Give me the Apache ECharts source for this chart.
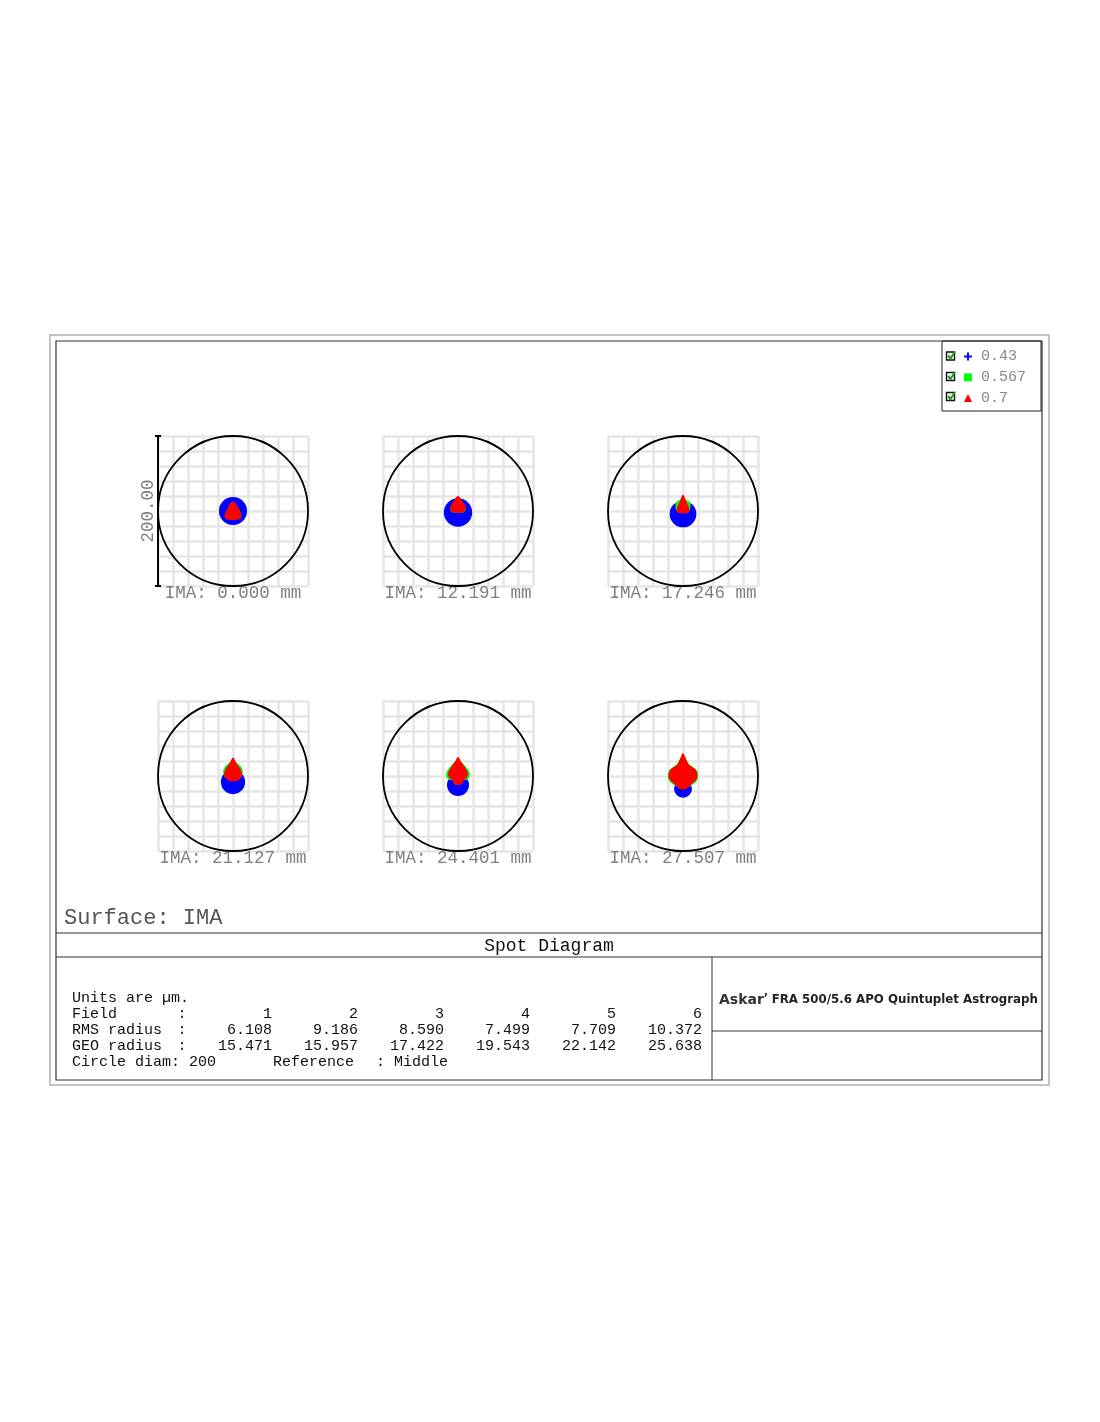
<!DOCTYPE html>
<html>
<head>
<meta charset="utf-8">
<script src="https://cdn.jsdelivr.net/npm/echarts@6/dist/echarts.min.js"></script>
<style>
html, body { margin: 0; background: #fff; }
#main { width: 1100px; height: 1422px; }
</style>
</head>
<body>
<div id="main"></div>
<script>
// field positions on the image surface (mm)
var fieldMm = ['0.000', '12.191', '17.246', '21.127', '24.401', '27.507'];
var fieldNo = ['1', '2', '3', '4', '5', '6'];
var wavelengths = ['0.43', '0.567', '0.7'];
var rmsRadius = ['6.108', '9.186', '8.590', '7.499', '7.709', '10.372'];
var geoRadius = ['15.471', '15.957', '17.422', '19.543', '22.142', '25.638'];
var circleDiam = 200;
var scaleLabel = '200.00';

// blue spot as [cx, cy, r] in µm
var blueSpots = [
  [0, 0, 18.7],
  [0, -2, 18.9],
  [0, -4, 17.8],
  [0, -8, 16.2],
  [0, -12, 14.7],
  [0, -17, 12]
];
// green / red spot outlines, right half from top to bottom, µm
var greenHalf = [
  [[0, 12], [3, 11], [6, 5.5], [9.5, -1.5], [11, -6], [10, -10], [6, -11], [0, -11.5]],
  [[0, 19], [4, 14.5], [7.5, 9.5], [10, 4.5], [10, 1], [8, -1.5], [0, -2.5]],
  [[0, 18], [4, 15], [8, 13], [10, 10], [10, 5], [9, 1], [6, -2], [0, -3]],
  [[0, 23], [3, 19], [7, 16], [10.5, 13], [13, 8], [13, 3], [11.5, -1], [8, -4], [0, -6]],
  [[0, 23], [3, 20], [7, 16], [11, 12], [14.5, 7], [16, 2], [15, -2.5], [12, -5], [0, -7]],
  [[0, 29], [4, 22], [9, 15], [15, 11], [19, 7], [20.3, 2], [20, -3], [17.5, -8], [12, -12], [6, -15], [0, -16]]
];
var redHalf = [
  [[0, 12.5], [3, 11.5], [6, 6], [9.5, -1], [11.5, -6], [10.5, -10], [6, -11.5], [0, -12]],
  [[0, 20], [2, 19], [4, 16], [6.5, 12], [9, 8], [10.3, 5], [10, 1.5], [8, -1], [4, -2.3], [0, -2.5]],
  [[0, 22], [1.5, 20.5], [3, 16], [5, 11], [7.5, 6], [8.5, 2.5], [8, -1], [5, -2.8], [0, -3.2]],
  [[0, 25], [1.5, 23.5], [3.5, 19], [6, 15], [9, 11], [11.5, 6], [12, 2], [11, -1.5], [8, -4.5], [4, -6.5], [0, -7]],
  [[0, 25.7], [1.5, 24], [3.5, 20], [5.8, 17], [9, 12], [12, 7.5], [13.5, 3.5], [13, 0], [10.5, -3.5], [7, -5.5], [6.5, -9], [4, -11.5], [0, -12]],
  [[0, 31], [1.5, 29], [3, 25], [4.4, 22], [7.3, 15.3], [12, 12], [17, 8.7], [19, 4], [19.3, -2.4], [17, -6], [11, -11.3], [7, -15], [4.4, -17.5], [0, -18]]
];

var colors = ['#0000ff', '#00ff00', '#ff0000'];
var mono = '"Liberation Mono", "DejaVu Sans Mono", monospace';
var gridLeft = [158, 383, 608];
var gridTop = [436, 701];

// spot outline is symmetric about the meridional plane
function mirror(half) {
  var back = half.slice(1, -1).reverse().map(function (p) { return [-p[0], p[1]]; });
  return half.concat(back);
}

var grids = [], xAxes = [], yAxes = [], series = [];
for (var i = 0; i < 6; i++) {
  grids.push({
    left: gridLeft[i % 3], top: gridTop[Math.floor(i / 3)],
    width: 150, height: 150
  });
  var splitLine = { show: true, lineStyle: { color: '#e6e6e6', width: 2.5 } };
  xAxes.push({
    gridIndex: i, type: 'value', min: -circleDiam / 2, max: circleDiam / 2, interval: 20,
    axisLine: { show: false }, axisTick: { show: false }, axisLabel: { show: false },
    splitLine: splitLine,
    name: 'IMA: ' + fieldMm[i] + ' mm', nameLocation: 'middle', nameGap: -2,
    nameTextStyle: { fontFamily: mono, fontSize: 17.5, color: '#808080' }
  });
  var y = {
    gridIndex: i, type: 'value', min: -circleDiam / 2, max: circleDiam / 2, interval: 20,
    axisLine: { show: false }, axisTick: { show: false }, axisLabel: { show: false },
    splitLine: splitLine
  };
  if (i === 0) {
    y.axisLine = { show: true, onZero: false, lineStyle: { color: '#000', width: 2 } };
    y.name = scaleLabel;
    y.nameLocation = 'middle';
    y.nameRotate = 90;
    y.nameGap = 1;
    y.nameTextStyle = { fontFamily: mono, fontSize: 17.5, color: '#808080' };
  }
  yAxes.push(y);

  (function (i) {
    for (var k = 0; k < 3; k++) {
      (function (k) {
        series.push({
          type: 'custom', name: wavelengths[k], xAxisIndex: i, yAxisIndex: i,
          itemStyle: { color: colors[k] }, silent: true, z: 3 + k,
          data: [[0, 0]],
          renderItem: function (params, api) {
            if (k === 0) {
              var s = blueSpots[i];
              var c = api.coord([s[0], s[1]]);
              var r = api.size([s[2], 0])[0];
              return { type: 'circle', shape: { cx: c[0], cy: c[1], r: r }, style: { fill: colors[k] } };
            }
            var half = k === 1 ? greenHalf[i] : redHalf[i];
            var pts = mirror(half).map(function (p) { return api.coord(p); });
            return { type: 'polygon', shape: { points: pts }, style: { fill: colors[k] } };
          }
        });
      })(k);
    }
    // reference circle
    series.push({
      type: 'custom', name: 'circle', xAxisIndex: i, yAxisIndex: i, silent: true, z: 2,
      data: [[0, 0]],
      renderItem: function (params, api) {
        var c = api.coord([0, 0]);
        var r = api.size([circleDiam / 2, 0])[0];
        return { type: 'circle', shape: { cx: c[0], cy: c[1], r: r }, style: { fill: 'none', stroke: '#000', lineWidth: 1.8 } };
      }
    });
  })(i);
}

// end caps of the scale bar on the first spot
series.push({
  type: 'custom', name: 'scale', xAxisIndex: 0, yAxisIndex: 0, silent: true, z: 6,
  data: [[-circleDiam / 2, circleDiam / 2], [-circleDiam / 2, -circleDiam / 2]],
  renderItem: function (params, api) {
    var p = api.coord([api.value(0), api.value(1)]);
    return { type: 'line', shape: { x1: p[0] - 3, y1: p[1], x2: p[0] + 3, y2: p[1] }, style: { stroke: '#000', lineWidth: 2 } };
  }
});

function txt(x, y, s, font, fill, align) {
  return {
    type: 'text', x: x, y: y, silent: true,
    style: { text: s, font: font, fill: fill, align: align || 'left', verticalAlign: 'middle',
      textAlign: align || 'left', textVerticalAlign: 'middle' }
  };
}
function line(x1, y1, x2, y2, color, w) {
  return { type: 'line', silent: true, shape: { x1: x1, y1: y1, x2: x2, y2: y2 }, style: { stroke: color, lineWidth: w } };
}

var graphics = [
  { type: 'rect', silent: true, shape: { x: 50, y: 335, width: 999, height: 750 }, style: { fill: 'none', stroke: '#c4c4c4', lineWidth: 2 } },
  { type: 'rect', silent: true, shape: { x: 56, y: 341, width: 986, height: 739 }, style: { fill: 'none', stroke: '#333', lineWidth: 1.2 } },
  { type: 'rect', silent: true, shape: { x: 942, y: 341, width: 99, height: 70 }, style: { fill: 'none', stroke: '#222', lineWidth: 1 } },
  line(56, 933, 1042, 933, '#333', 1),
  line(56, 957, 1042, 957, '#333', 1),
  line(712, 957, 712, 1080, '#333', 1),
  line(712, 1031, 1042, 1031, '#333', 1),
  txt(64, 918, 'Surface: IMA', '22px ' + mono, '#555'),
  txt(549, 946, 'Spot Diagram', '18px ' + mono, '#111', 'center'),
  txt(72, 998, 'Units are \u00b5m.', '15px ' + mono, '#111'),
  txt(72, 1062, 'Circle diam: ' + circleDiam, '15px ' + mono, '#111'),
  txt(273, 1062, 'Reference', '15px ' + mono, '#111'),
  txt(376, 1062, ': Middle', '15px ' + mono, '#111'),
  {
    type: 'text', x: 719, y: 1000, silent: true,
    style: {
      text: '{a|Askar}{m|\u02bc} {b|FRA 500/5.6 APO Quintuplet Astrograph}',
      verticalAlign: 'middle', textVerticalAlign: 'middle',
      rich: {
        a: { font: 'bold 14px "DejaVu Sans"', fill: '#333' },
        m: { font: 'bold 12px "DejaVu Sans"', fill: '#333', verticalAlign: 'top' },
        b: { font: 'bold 11.8px "DejaVu Sans"', fill: '#222' }
      }
    }
  }
];

var rowLabels = ['Field', 'RMS radius', 'GEO radius'];
var rows = [fieldNo, rmsRadius, geoRadius];
for (var r = 0; r < 3; r++) {
  var yy = 1014 + r * 16;
  graphics.push(txt(72, yy, rowLabels[r], '15px ' + mono, '#111'));
  graphics.push(txt(182, yy, ':', '15px ' + mono, '#111', 'center'));
  for (var c = 0; c < 6; c++) {
    graphics.push(txt(272 + 86 * c, yy, rows[r][c], '15px ' + mono, '#111', 'right'));
  }
}

// legend check boxes
[356, 376.5, 396.5].forEach(function (yc) {
  graphics.push({ type: 'rect', silent: true, shape: { x: 946.5, y: yc - 4, width: 8, height: 8 }, style: { fill: '#fff', stroke: '#111', lineWidth: 1.4 } });
  graphics.push({ type: 'polyline', silent: true, shape: { points: [[948, yc - 0.5], [950.5, yc + 2.5], [955, yc - 4.5]] }, style: { fill: 'none', stroke: '#1c9a1c', lineWidth: 2 } });
});

var option = {
  animation: false,
  backgroundColor: '#fff',
  legend: {
    orient: 'vertical', left: 964, top: 349, padding: 0, itemWidth: 8, itemHeight: 8, itemGap: 5.8,
    data: [
      { name: wavelengths[0], icon: 'path://M3,0h2v3h3v2h-3v3h-2v-3h-3v-2h3z' },
      { name: wavelengths[1], icon: 'rect' },
      { name: wavelengths[2], icon: 'triangle' }
    ],
    textStyle: { fontFamily: mono, fontSize: 15, color: '#888', padding: [0, 0, 0, 4] }
  },
  grid: grids,
  xAxis: xAxes,
  yAxis: yAxes,
  series: series,
  graphic: { elements: graphics }
};

var myChart = echarts.init(document.getElementById('main'));
myChart.setOption(option);
</script>
</body>
</html>
